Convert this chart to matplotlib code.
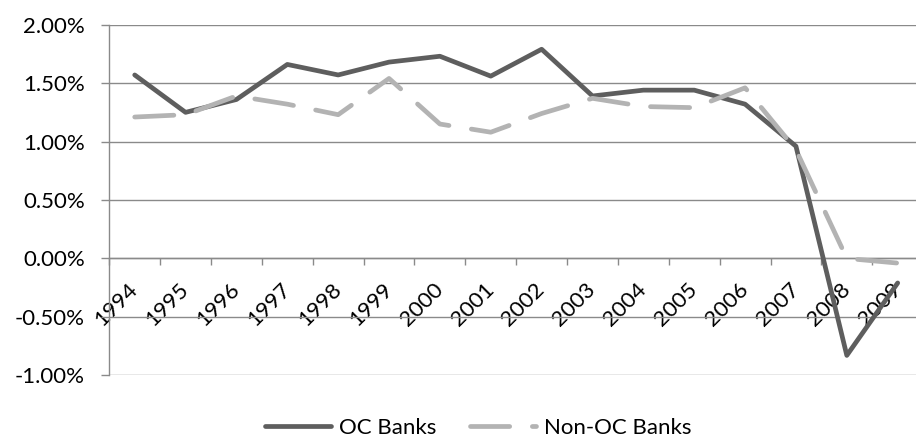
import numpy as np
import matplotlib.pyplot as plt
from matplotlib.ticker import FuncFormatter

plt.rcParams['font.family'] = ['Lato', 'DejaVu Sans']

years = [str(y) for y in range(1994, 2010)]
# return on assets, percent
oc_banks = [1.57, 1.25, 1.36, 1.66, 1.57, 1.68, 1.73, 1.56,
            1.79, 1.39, 1.44, 1.44, 1.32, 0.96, -0.83, -0.21]
non_oc_banks = [1.21, 1.23, 1.39, 1.32, 1.23, 1.54, 1.15, 1.08,
                1.24, 1.37, 1.30, 1.29, 1.46, 0.93, 0.00, -0.04]

dark = '#5e5e5e'
light = '#b3b3b3'
axis_grey = '#8a8a8a'
fs = 16

fig = plt.figure(figsize=(9.16, 4.38), dpi=100)
ax = fig.add_axes([0.1193, 0.1432, 1 - 0.1193, 0.8004])

x = np.arange(len(years))
ax.plot(x, oc_banks, color=dark, linewidth=3.4,
        solid_capstyle='round', solid_joinstyle='round',
        label='OC Banks', zorder=3)
ax.plot(x, non_oc_banks, color=light, linewidth=3.4,
        dashes=(8.3, 4.8), dash_capstyle='round', dash_joinstyle='round',
        label='Non-OC Banks', zorder=3)

ax.set_xlim(-0.5, 15.36)
ax.set_ylim(-1.0, 2.0)

# y axis
ax.set_yticks(np.arange(-1.0, 2.01, 0.5))
ax.yaxis.set_major_formatter(FuncFormatter(lambda v, p: f"{v:.2f}%"))
ax.tick_params(axis='y', direction='out', length=5.5, width=1.0,
               color=axis_grey, labelsize=fs, pad=12)
ax.grid(True, axis='y', color=axis_grey, linewidth=1.0)
ax.set_axisbelow(True)

# category axis crossing at zero: ticks between categories, labels centred
ax.spines['bottom'].set_position(('data', 0))
ax.set_xticks(np.arange(-0.5, 15.5, 1.0))
ax.set_xticklabels([])
ax.set_xticks(x, minor=True)
ax.set_xticklabels(years, minor=True, rotation=45, ha='right',
                   va='center', rotation_mode='anchor')
ax.tick_params(axis='x', which='major', direction='out', length=5,
               width=1.0, color=axis_grey)
ax.tick_params(axis='x', which='minor', length=0, labelsize=fs, pad=20)

for side in ('top', 'right'):
    ax.spines[side].set_visible(False)
for side in ('left', 'bottom'):
    ax.spines[side].set_color(axis_grey)
    ax.spines[side].set_linewidth(1.0)

fig.legend(loc='center', bbox_to_anchor=(0.522, 0.0235), ncol=2,
           frameon=False, fontsize=fs, handlelength=3.0,
           handletextpad=0.35, columnspacing=1.5)

fig.savefig('out.png', dpi=100)
